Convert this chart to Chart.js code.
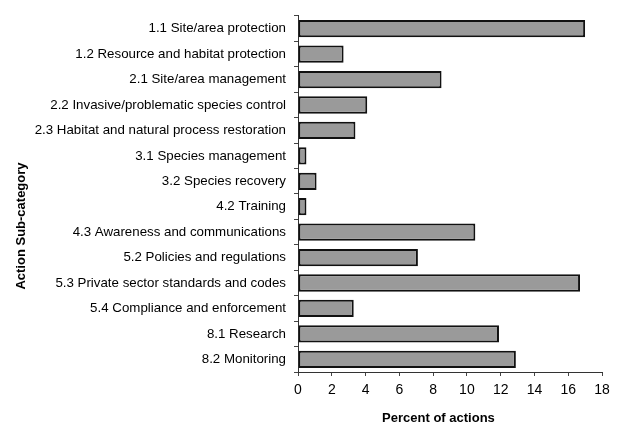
<!DOCTYPE html>
<html>
<head>
<meta charset="utf-8">
<script src="https://cdn.jsdelivr.net/npm/chart.js@4/dist/chart.umd.min.js"></script>
<style>
  html, body { margin: 0; padding: 0; background: #fff; }
  #wrap { width: 618px; height: 435px; }
</style>
</head>
<body>
<div id="wrap"><canvas id="chart"></canvas></div>
<script>
const categories = [
    '1.1 Site/area protection',
    '1.2 Resource and habitat protection',
    '2.1 Site/area management',
    '2.2 Invasive/problematic species control',
    '2.3 Habitat and natural process restoration',
    '3.1 Species management',
    '3.2 Species recovery',
    '4.2 Training',
    '4.3 Awareness and communications',
    '5.2 Policies and regulations',
    '5.3 Private sector standards and codes',
    '5.4 Compliance and enforcement',
    '8.1 Research',
    '8.2 Monitoring'
];
const percentOfActions = [17.0, 2.7, 8.5, 4.1, 3.4, 0.5, 1.1, 0.5, 10.5, 7.1, 16.7, 3.3, 11.9, 12.9];
const xTicks = [0, 2, 4, 6, 8, 10, 12, 14, 16, 18];
const xTitle = 'Percent of actions';
const yTitle = 'Action Sub-category';

const FONT = 'Arial, "Liberation Sans", sans-serif';

// axis titles placed like the original (not centred on the plot)
const axisTitles = {
    id: 'axisTitles',
    afterDraw(chart) {
        const ctx = chart.ctx;
        const area = chart.chartArea;
        ctx.save();
        ctx.fillStyle = '#000';
        ctx.font = 'bold 13px ' + FONT;
        ctx.textAlign = 'center';
        ctx.textBaseline = 'middle';
        ctx.fillText(xTitle, area.left + (area.right - area.left) * 0.462, area.bottom + 46);
        ctx.translate(21, area.top + (area.bottom - area.top) * 0.59);
        ctx.rotate(-Math.PI / 2);
        ctx.fillText(yTitle, 0, 0);
        ctx.restore();
    }
};

new Chart(document.getElementById('chart').getContext('2d'), {
    type: 'bar',
    data: {
        labels: categories,
        datasets: [{
            label: '',
            data: percentOfActions,
            backgroundColor: '#9a9a9a',
            borderColor: '#111',
            borderWidth: 2,
            borderSkipped: false,
            barPercentage: 0.68,
            categoryPercentage: 1
        }]
    },
    options: {
        indexAxis: 'y',
        responsive: true,
        maintainAspectRatio: false,
        animation: false,
        layout: {
            padding: { top: 12, right: 16, left: 0, bottom: 0 }
        },
        plugins: {
            legend: { display: false },
            tooltip: { enabled: false }
        },
        scales: {
            x: {
                min: 0,
                max: 18,
                afterBuildTicks: (axis) => {
                    axis.ticks = xTicks.map(v => ({ value: v }));
                },
                afterFit: (axis) => { axis.height = 63; },
                grid: {
                    drawOnChartArea: false,
                    drawTicks: true,
                    tickLength: 4,
                    color: '#444'
                },
                border: { color: '#333', width: 1 },
                ticks: {
                    color: '#000',
                    padding: 6,
                    maxRotation: 0,
                    font: { family: FONT, size: 14 }
                }
            },
            y: {
                afterFit: (axis) => { axis.width = 298; },
                grid: {
                    offset: true,
                    drawOnChartArea: false,
                    drawTicks: true,
                    tickLength: 4,
                    color: '#444'
                },
                border: { color: '#333', width: 1 },
                ticks: {
                    color: '#000',
                    padding: 8,
                    autoSkip: false,
                    font: { family: FONT, size: 13.3 }
                }
            }
        }
    },
    plugins: [axisTitles]
});
</script>
</body>
</html>
